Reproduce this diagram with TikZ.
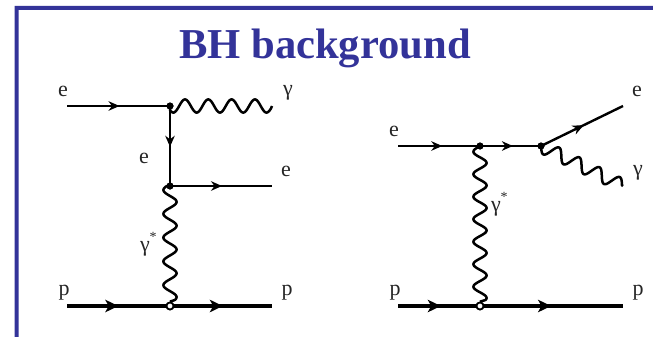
\documentclass[tikz,border=0pt]{standalone}
\usepackage{fontspec}
\setmainfont{Liberation Serif}
\usetikzlibrary{arrows.meta,decorations.pathmorphing,decorations.markings}
\definecolor{frameblue}{HTML}{333399}
\pgfdeclaredecoration{sinewave}{step}{
  \state{step}[width=1pt]{
    \pgfmathsetmacro\waveratio{(\pgfdecoratedcompleteddistance-\wavestart)/\pgfdecorationsegmentlength}
    \pgfmathsetlengthmacro\wavey{\pgfdecorationsegmentamplitude*cos(360*\waveratio)}
    \pgfpathlineto{\pgfqpoint{0pt}{\wavey}}
  }
  \state{final}{\pgfpathlineto{\pgfpointdecoratedpathlast}}
}
\tikzset{
  x=1pt,y=-1pt,
  vtx/.style={circle,fill=black,inner sep=0pt,minimum size=7pt},
  openvtx/.style={circle,draw=black,line width=1.7pt,fill=white,inner sep=0pt,minimum size=7pt},
  lbl/.style={font=\fontsize{22}{24}\selectfont,inner sep=0pt,text=black!85},
  star/.style={font=\fontsize{14}{14}\selectfont,inner sep=0pt,text=black!85},
  fermion/.style={line width=2.4pt,black},
  proton/.style={line width=4.6pt,black},
  photon/.style 2 args={line width=2.5pt,black,line join=round,/utils/exec={\def\wavestart{#2}},decorate,decoration={sinewave,segment length=#1,amplitude=6.6pt}},
  arrowat/.style={postaction={decorate,decoration={markings,mark=at position #1 with {\arrow{Stealth[length=11pt,width=9.5pt,inset=3.5pt]}}}}},
  parrowat/.style={postaction={decorate,decoration={markings,mark=at position #1 with {\arrow{Stealth[length=13pt,width=12.5pt,inset=3.5pt]}}}}},
}
\begin{document}
\begin{tikzpicture}
\useasboundingbox (0,0) rectangle (653,337);
% frame
\fill[frameblue] (14.5,337) -- (14.5,6) -- (653,6) -- (653,10) -- (18.5,10) -- (18.5,337) -- cycle;
\node[font=\bfseries\fontsize{42.6}{46}\selectfont,text=frameblue,inner sep=0pt] (title) at (325,48) {BH background};

% left diagram
\coordinate (ein) at (67,106);
\coordinate (gout) at (272,106);
\coordinate (eout) at (272,186);
\coordinate (pin) at (67,306);
\coordinate (pout) at (272,306);
\node[vtx] (a) at (170,106) {};
\node[vtx] (b) at (170,186) {};
\node[openvtx] (c) at (170,306) {};
\draw[fermion,arrowat=0.51] (ein) -- (a.center);
\draw[fermion,arrowat=0.51] (a.center) -- (b.center);
\draw[fermion,arrowat=0.51] (b.center) -- (eout);
\draw[proton,parrowat=0.25,parrowat=0.76] (pin) -- (pout);
\draw[photon={23.3pt}{15pt}] (a.center) -- (gout);
\draw[photon={23.8pt}{15.9pt}] (b.center) -- (c.north);
\node[openvtx] at (c) {};
\node[vtx] at (a) {};
\node[vtx] at (b) {};
\node[lbl] (l1) at (63,91) {e};
\node[lbl] (l2) at (288,93) {γ};
\node[lbl] (l3) at (144,158) {e};
\node[lbl] (l4) at (286,171) {e};
\node[lbl] (l5) at (145,249) {γ};
\node[star] (l6) at (153,237) {*};
\node[lbl] (l7) at (64,293) {p};
\node[lbl] (l8) at (287,293) {p};

% right diagram
\coordinate (ein2) at (398,146);
\coordinate (eout2) at (623,106);
\coordinate (gout2) at (623,186);
\coordinate (pin2) at (398,306);
\coordinate (pout2) at (623,306);
\node[vtx] (d) at (480,146) {};
\node[vtx] (e) at (541,146) {};
\node[openvtx] (f) at (480,306) {};
\draw[fermion,arrowat=0.54] (ein2) -- (d.center);
\draw[fermion,arrowat=0.54] (d.center) -- (e.center);
\draw[fermion,arrowat=0.52] (e.center) -- (eout2);
\draw[proton,parrowat=0.19,parrowat=0.68] (pin2) -- (pout2);
\draw[photon={22.5pt}{17pt}] (e.center) -- (gout2);
\draw[photon={22.5pt}{16.95pt}] (d.center) -- (f.north);
\node[openvtx] at (f) {};
\node[vtx] at (d) {};
\node[vtx] at (e) {};
\node[lbl] (r1) at (394,131) {e};
\node[lbl] (r2) at (637,91) {e};
\node[lbl] (r3) at (638,173) {γ};
\node[lbl] (r4) at (496,209) {γ};
\node[star] (r5) at (504,197) {*};
\node[lbl] (r6) at (395,293) {p};
\node[lbl] (r7) at (638,293) {p};
\end{tikzpicture}
\end{document}
